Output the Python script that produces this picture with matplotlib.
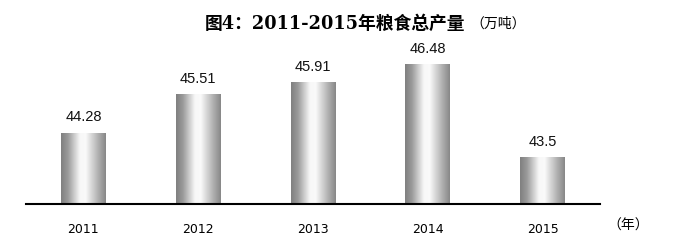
import matplotlib
matplotlib.use("Agg")
import matplotlib.pyplot as plt
import numpy as np
from matplotlib.colors import LinearSegmentedColormap

years = ["2011", "2012", "2013", "2014", "2015"]
values = [44.28, 45.51, 45.91, 46.48, 43.5]
value_labels = ["44.28", "45.51", "45.91", "46.48", "43.5"]

plt.rcParams['font.family'] = ['Noto Sans CJK SC', 'DejaVu Sans']

fig = plt.figure(figsize=(6.78, 2.51), dpi=100)
ax = fig.add_axes([26/678, 1-205/251, (600-26)/678, (205-49.5)/251])

x = np.arange(len(years))
bw = 0.39
ax.set_xlim(-0.5, len(years) - 0.5)
ax.set_ylim(42, 47)

cmap = LinearSegmentedColormap.from_list(
    "cyl", [(0.0, (0.50, 0.50, 0.50)), (0.15, (0.60, 0.60, 0.60)),
            (0.42, (0.97, 0.97, 0.97)), (0.55, (0.98, 0.98, 0.98)),
            (0.82, (0.70, 0.70, 0.70)), (1.0, (0.53, 0.53, 0.53))])
grad = np.linspace(0, 1, 256).reshape(1, -1)

bars = ax.bar(x, values, width=bw, bottom=0, color='none', edgecolor='none')
for b in bars:
    x0 = b.get_x()
    ax.imshow(grad, cmap=cmap, aspect='auto', interpolation='bilinear',
              extent=[x0, x0 + b.get_width(), 42, b.get_height()], zorder=2)

for xi, v, lab in zip(x, values, value_labels):
    ax.annotate(lab, (xi, v), xytext=(0, 7), textcoords='offset points',
                ha='center', va='bottom', fontsize=10.5,
                family=['Liberation Sans', 'DejaVu Sans'], color='#111111')

ax.set_xlim(-0.5, len(years) - 0.5)
ax.set_ylim(42, 47)
for s in ['top', 'right', 'left']:
    ax.spines[s].set_visible(False)
ax.spines['bottom'].set_linewidth(1.5)
ax.spines['bottom'].set_color('black')
ax.set_yticks([])
ax.set_xticks(x)
ax.set_xticklabels(years, fontsize=9, family=['DejaVu Sans'])
ax.tick_params(axis='x', length=0, pad=13)

fig.text(628/678, 1-226/251, "（年）", ha='center', va='center', fontsize=10)
fig.text(205/678, 1-24/251, "图4：2011-2015年粮食总产量", ha='left', va='center',
         fontsize=12.8, fontweight='bold', family=['DejaVu Serif', 'Noto Sans CJK SC'])
fig.text(470/678, 1-24/251, "（万吨）", ha='left', va='center', fontsize=10)

fig.savefig("out.png", dpi=100)
